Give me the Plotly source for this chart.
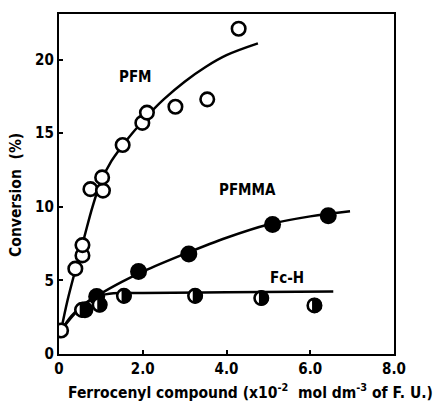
import math
import plotly.graph_objects as go

# Measured conversions vs ferrocenyl compound concentration
pfm_x = [0.05, 0.39, 0.56, 0.56, 0.75, 1.05, 1.03, 1.52, 1.99, 2.10, 2.78, 3.54, 4.29]
pfm_y = [1.6, 5.8, 6.7, 7.4, 11.2, 11.1, 12.0, 14.2, 15.7, 16.4, 16.8, 17.3, 22.1]

pfmma_x = [0.62, 0.90, 1.90, 3.10, 5.10, 6.43]
pfmma_y = [3.0, 3.9, 5.6, 6.8, 8.8, 9.4]

fch_x = [0.55, 0.97, 1.55, 3.25, 4.83, 6.10]
fch_y = [3.0, 3.35, 3.95, 3.95, 3.8, 3.3]

# Hand-drawn trend curves
pfm_curve_x = [0.05, 0.2, 0.4, 0.6, 0.8, 1.0, 1.25, 1.5, 1.75, 2.0, 2.25, 2.5, 3.0, 3.5, 4.0, 4.75]
pfm_curve_y = [1.6, 3.6, 5.8, 7.9, 10.0, 11.7, 13.1, 14.1, 15.0, 15.8, 16.6, 17.3, 18.5, 19.5, 20.3, 21.1]

pfmma_curve_x = [0.05, 0.5, 1.0, 1.5, 2.0, 3.0, 4.0, 5.0, 6.0, 6.95]
pfmma_curve_y = [1.6, 3.1, 4.1, 4.9, 5.6, 6.8, 7.9, 8.8, 9.35, 9.7]

fch_curve_x = [0.05, 0.3, 0.6, 0.9, 1.2, 1.5, 2.0, 4.0, 6.55]
fch_curve_y = [1.6, 2.6, 3.4, 3.9, 4.1, 4.15, 4.15, 4.2, 4.25]

x_ticks = [0, 2, 4, 6, 8]
x_tick_labels = ["0", "2.0", "4.0", "6.0", "8.0"]
y_ticks = [0, 5, 10, 15, 20]
y_tick_labels = ["0", "5", "10", "15", "20"]

series_labels = ["PFM", "PFMMA", "Fc-H"]
label_x = [1.82, 4.5, 5.45]
label_y = [18.8, 11.15, 5.15]

FONT = "Liberation Sans Narrow, DejaVu Sans Condensed, sans-serif"
INK = "black"

fig = go.Figure()

for cx, cy in [(pfm_curve_x, pfm_curve_y), (pfmma_curve_x, pfmma_curve_y), (fch_curve_x, fch_curve_y)]:
    fig.add_trace(go.Scatter(x=cx, y=cy, mode="lines", line=dict(color=INK, width=2.5, shape="spline"),
                             hoverinfo="skip"))

fig.add_trace(go.Scatter(x=pfm_x, y=pfm_y, mode="markers",
                         marker=dict(symbol="circle", size=13.5, color="white",
                                     line=dict(color=INK, width=2.6))))
fig.add_trace(go.Scatter(x=pfmma_x, y=pfmma_y, mode="markers",
                         marker=dict(symbol="circle", size=17, color=INK, line=dict(width=0))))
fig.add_trace(go.Scatter(x=fch_x, y=fch_y, mode="markers",
                         marker=dict(symbol="circle", size=13.5, color="white",
                                     line=dict(color=INK, width=2.6))))

# right-hand filled segment of the half-shaded Fc-H markers (pixel-sized path)
R = 7.6
pts = []
for i in range(0, 25):
    a = math.radians(-108 + 216 * i / 24)
    pts.append((R * math.cos(a), R * math.sin(a)))
seg_path = "M " + " L ".join(f"{px:.2f},{py:.2f}" for px, py in pts) + " Z"
shapes = []
for xv, yv in zip(fch_x, fch_y):
    shapes.append(dict(type="path", xref="x", yref="y", xsizemode="pixel", ysizemode="pixel",
                       xanchor=xv, yanchor=yv, path=seg_path,
                       fillcolor=INK, line=dict(width=0), layer="above"))

annotations = []
for t, lx, ly in zip(series_labels, label_x, label_y):
    annotations.append(dict(x=lx, y=ly, xref="x", yref="y", text=f"<b>{t}</b>", showarrow=False,
                            font=dict(family=FONT, size=15, color=INK)))

annotations.append(dict(x=(16 - 59) / 335, y=(354 - 194) / 342, xref="paper", yref="paper",
                        text="<b>Conversion  (%)</b>", textangle=-90, showarrow=False,
                        xanchor="center", yanchor="middle",
                        font=dict(family=FONT, size=15.5, color=INK)))
annotations.append(dict(x=(250 - 59) / 335, y=(354 - 392) / 342, xref="paper", yref="paper",
                        text="<b>Ferrocenyl compound (x10<sup>-2</sup>  mol dm<sup>-3</sup> of F. U.)</b>",
                        showarrow=False, xanchor="center", yanchor="middle",
                        font=dict(family=FONT, size=15.5, color=INK)))

axis_common = dict(showline=True, linewidth=2.2, linecolor=INK, mirror=True, showgrid=False,
                   zeroline=False, ticks="inside", ticklen=4, tickwidth=1.5, tickcolor=INK,
                   tickfont=dict(family=FONT, size=15, color=INK))

fig.update_layout(
    width=435, height=415,
    margin=dict(l=59, r=41, t=12, b=61),
    paper_bgcolor="white", plot_bgcolor="white",
    showlegend=False,
    shapes=shapes,
    annotations=annotations,
    xaxis=dict(range=[0, 8], tickvals=x_ticks, ticktext=[f"<b>{s}</b>" for s in x_tick_labels], **axis_common),
    yaxis=dict(range=[0, 23.1], tickvals=y_ticks, ticktext=[f"<b>{s}</b>" for s in y_tick_labels], **axis_common),
)

fig.write_html("out.html")
